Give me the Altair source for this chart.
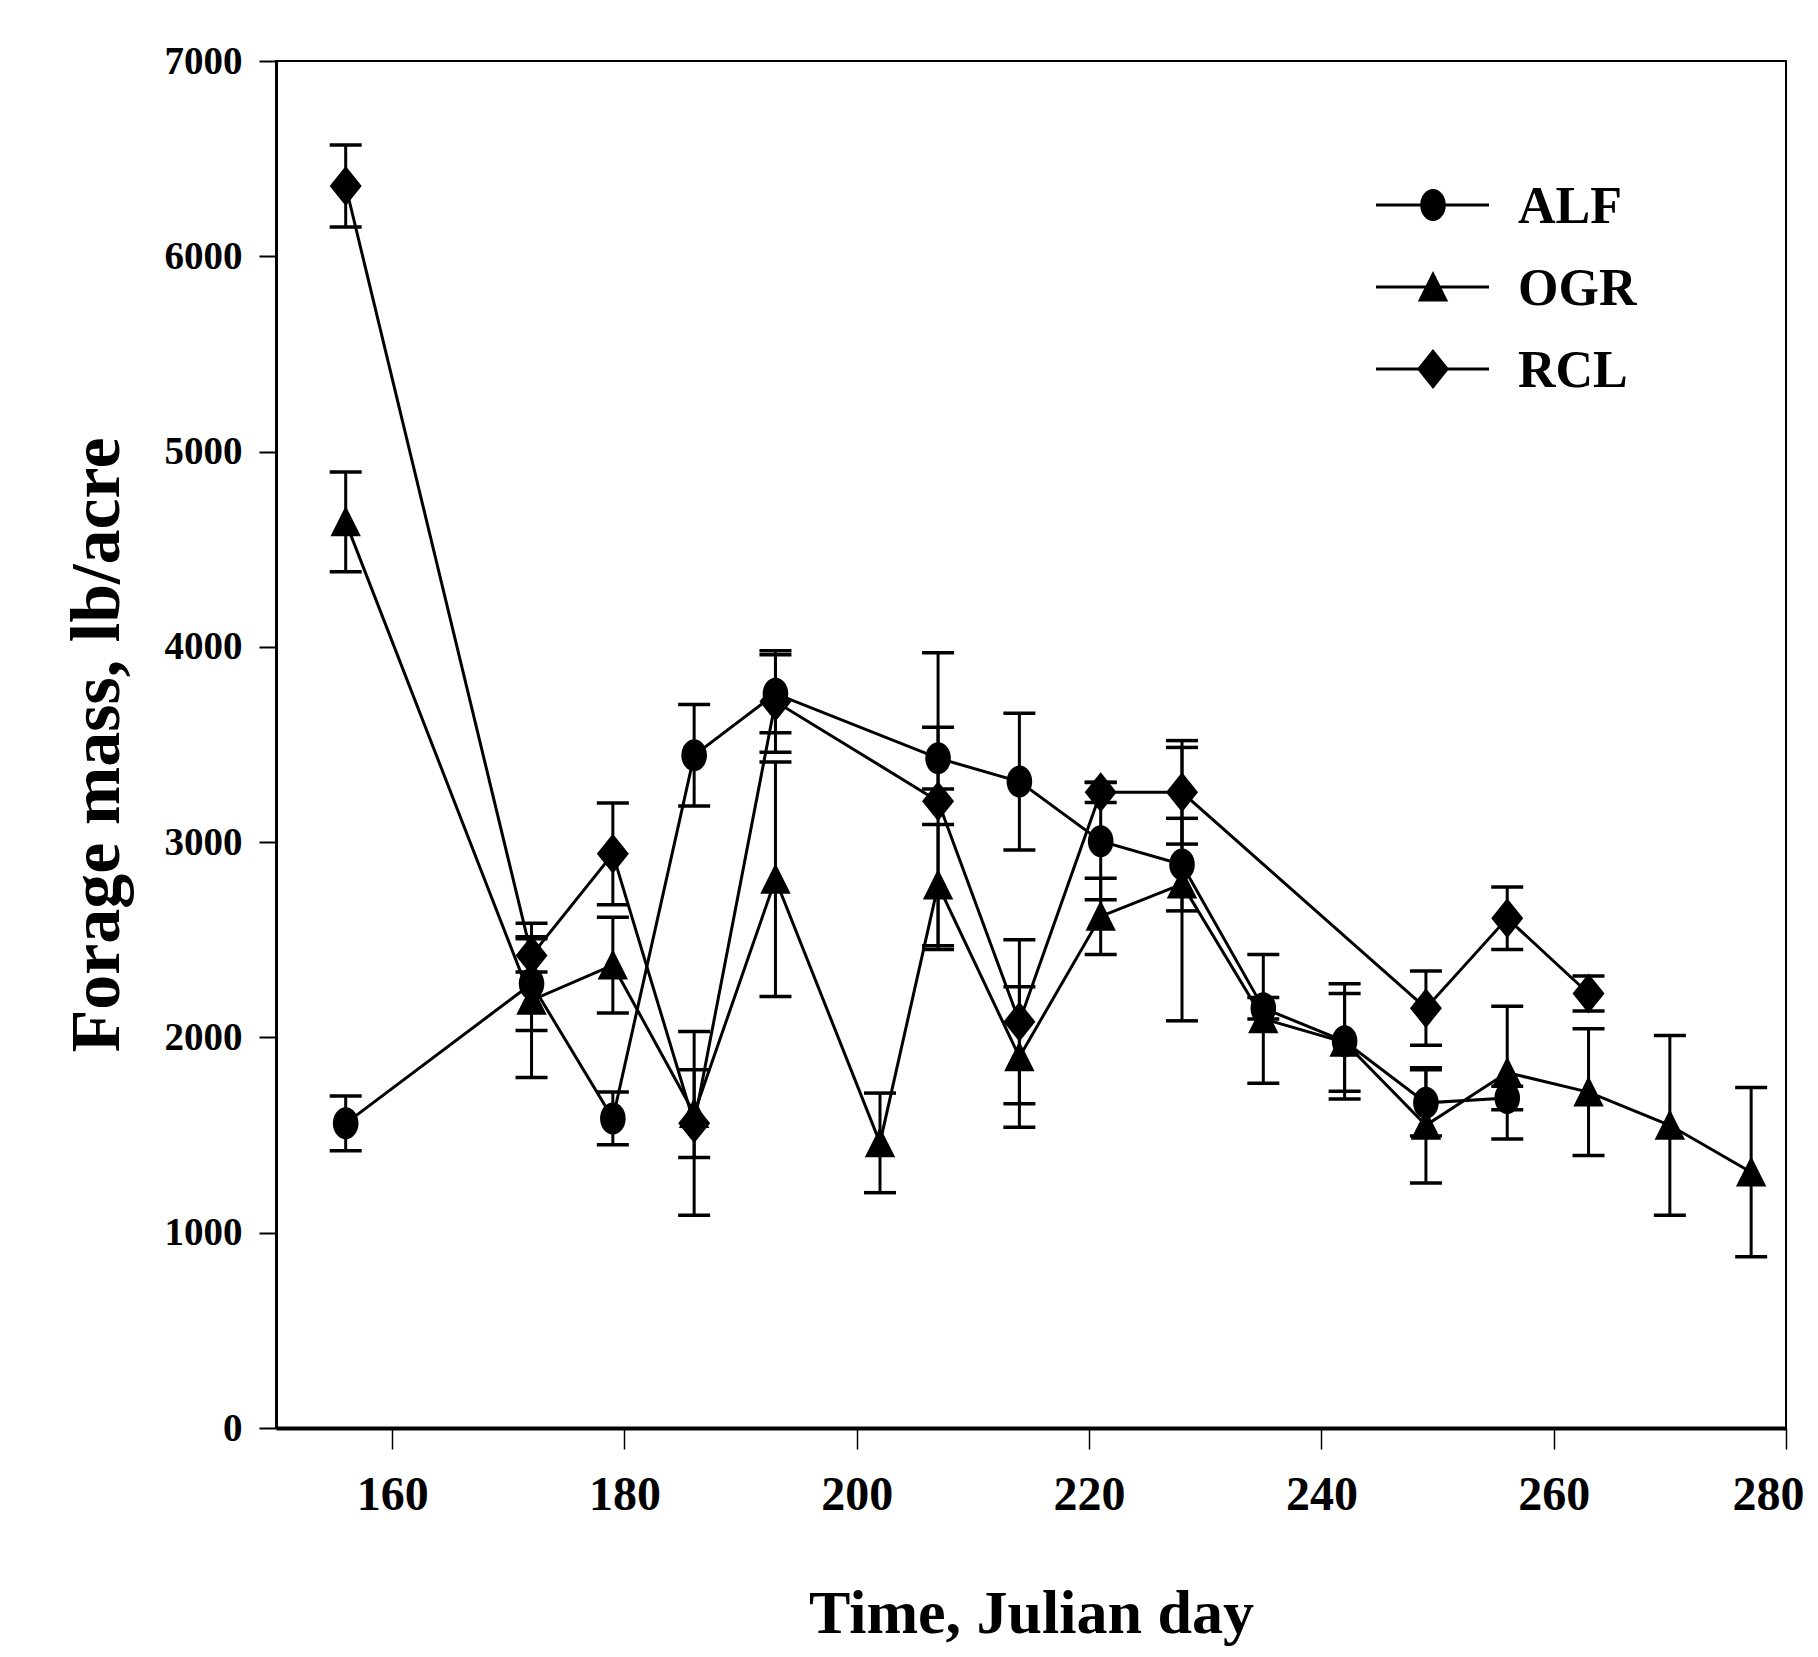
import altair as alt
import pandas as pd

# ---------------- data ----------------
series_names = ["ALF", "OGR", "RCL"]

days_alf = [156, 172, 179, 186, 193, 207, 214, 221, 228, 235, 242, 249, 256]
mass_alf = [1560, 2275, 1585, 3445, 3760, 3430, 3310, 3005, 2885, 2150, 1980, 1665, 1690]
err_alf = [140, 240, 135, 260, 200, 158, 350, 300, 237, 55, 295, 170, 60]

days_ogr = [156, 172, 179, 186, 193, 202, 207, 214, 221, 228, 235, 242, 249, 256, 263, 270, 277]
mass_ogr = [4640, 2190, 2370, 1610, 2810, 1460, 2780, 1900, 2620, 2785, 2095, 1975, 1550, 1820, 1720, 1550, 1310]
err_ogr = [255, 395, 245, 225, 600, 255, 310, 360, 195, 700, 330, 250, 295, 340, 325, 460, 433]

days_rcl = [156, 172, 179, 186, 193, 207, 214, 221, 228, 249, 256, 263]
mass_rcl = [6360, 2420, 2940, 1560, 3720, 3210, 2080, 3255, 3255, 2150, 2610, 2225]
err_rcl = [210, 85, 260, 470, 260, 760, 420, 52, 265, 190, 160, 90]

x_ticks = [160, 180, 200, 220, 240, 260, 280]
y_ticks = [0, 1000, 2000, 3000, 4000, 5000, 6000, 7000]

rows = []
for name, days, vals, errs in [
    ("ALF", days_alf, mass_alf, err_alf),
    ("OGR", days_ogr, mass_ogr, err_ogr),
    ("RCL", days_rcl, mass_rcl, err_rcl),
]:
    for d, v, e in zip(days, vals, errs):
        rows.append({"series": name, "day": d, "mass": v, "lo": v - e, "hi": v + e})
df = pd.DataFrame(rows)

# ---------------- styling ----------------
FONT = "Liberation Serif"
W, H = 1510, 1367

ELLIPSE = "M-0.8,0A0.8,1,0,1,1,0.8,0A0.8,1,0,1,1,-0.8,0Z"
TRIANGLE = "M0,-1L0.95,0.9L-0.95,0.9Z"
DIAMOND = "M0,-1L0.8,0L0,1L-0.8,0Z"
shapes = {"ALF": (ELLIPSE, 1024), "OGR": (TRIANGLE, 1024), "RCL": (DIAMOND, 1600)}

xs = alt.Scale(domain=[150, 280], nice=False, zero=False)
ys = alt.Scale(domain=[0, 7000], nice=False)

x_axis = alt.Axis(
    values=x_ticks, title="Time, Julian day", grid=False, format="d",
    tickSize=21, tickWidth=1.5, tickColor="black",
    domainWidth=4, domainColor="black",
    labelFont=FONT, labelFontWeight="bold", labelFontSize=48, labelColor="black",
    labelPadding=22, labelFlush=True, labelFlushOffset=18, labelOverlap=False,
    titleFont=FONT, titleFontWeight="bold", titleFontSize=62, titleColor="black",
    titleBaseline="alphabetic", titleY=204,
)
y_axis = alt.Axis(
    values=y_ticks, title="Forage mass, lb/acre", grid=False, format="d",
    tickSize=17, tickWidth=2, tickColor="black",
    domainWidth=3, domainColor="black",
    labelFont=FONT, labelFontWeight="bold", labelFontSize=39, labelColor="black",
    labelPadding=17, labelFlush=False, labelOverlap=False,
    titleFont=FONT, titleFontWeight="bold", titleFontSize=70, titleColor="black",
    titleBaseline="alphabetic", titleX=-158,
)

base = alt.Chart(df)

lines = base.mark_line(color="black", strokeWidth=3).encode(
    x=alt.X("day:Q", scale=xs, axis=x_axis),
    y=alt.Y("mass:Q", scale=ys, axis=y_axis),
    detail="series:N",
    order="day:Q",
)

err_v = base.mark_rule(color="black", strokeWidth=3).encode(
    x=alt.X("day:Q", scale=xs), y=alt.Y("lo:Q", scale=ys), y2="hi:Q"
)
cap_hi = base.mark_rule(color="black", strokeWidth=3.5, xOffset=-16, x2Offset=16).encode(
    x=alt.X("day:Q", scale=xs), x2="day:Q", y=alt.Y("hi:Q", scale=ys)
)
cap_lo = base.mark_rule(color="black", strokeWidth=3.5, xOffset=-16, x2Offset=16).encode(
    x=alt.X("day:Q", scale=xs), x2="day:Q", y=alt.Y("lo:Q", scale=ys)
)

layers = [lines, err_v, cap_hi, cap_lo]
for name in series_names:
    path, size = shapes[name]
    layers.append(
        base.transform_filter(alt.datum.series == name)
        .mark_point(filled=True, shape=path, size=size, color="black", opacity=1, strokeWidth=0)
        .encode(x=alt.X("day:Q", scale=xs), y=alt.Y("mass:Q", scale=ys))
    )

# ---------------- legend (drawn inside the plot, SigmaPlot style) ----------------
leg_df = pd.DataFrame({"k": [0]})
LEG_X0, LEG_X1, LEG_SYM, LEG_TXT, LEG_Y0, LEG_DY = 1100, 1213, 1157, 1242, 144, 82
for i, name in enumerate(series_names):
    ly = LEG_Y0 + i * LEG_DY
    path, size = shapes[name]
    leg = alt.Chart(leg_df)
    layers.append(
        leg.mark_rule(color="black", strokeWidth=3).encode(
            x=alt.value(LEG_X0), x2=alt.value(LEG_X1), y=alt.value(ly)
        )
    )
    layers.append(
        leg.mark_point(filled=True, shape=path, size=size, color="black", opacity=1, strokeWidth=0).encode(
            x=alt.value(LEG_SYM), y=alt.value(ly)
        )
    )
    layers.append(
        leg.mark_text(align="left", baseline="middle", font=FONT, fontWeight="bold",
                      fontSize=52, color="black", dy=2).encode(
            x=alt.value(LEG_TXT), y=alt.value(ly), text=alt.value(name)
        )
    )

chart = (
    alt.layer(*layers)
    .properties(
        width=W, height=H,
        autosize=alt.AutoSizeParams(type="none"),
        padding={"left": 268, "top": 53, "right": 24, "bottom": 220},
        background="white",
    )
    .configure_view(stroke="black", strokeWidth=2)
)

chart.save("out.html", embed_options={"renderer": "svg", "actions": False})
